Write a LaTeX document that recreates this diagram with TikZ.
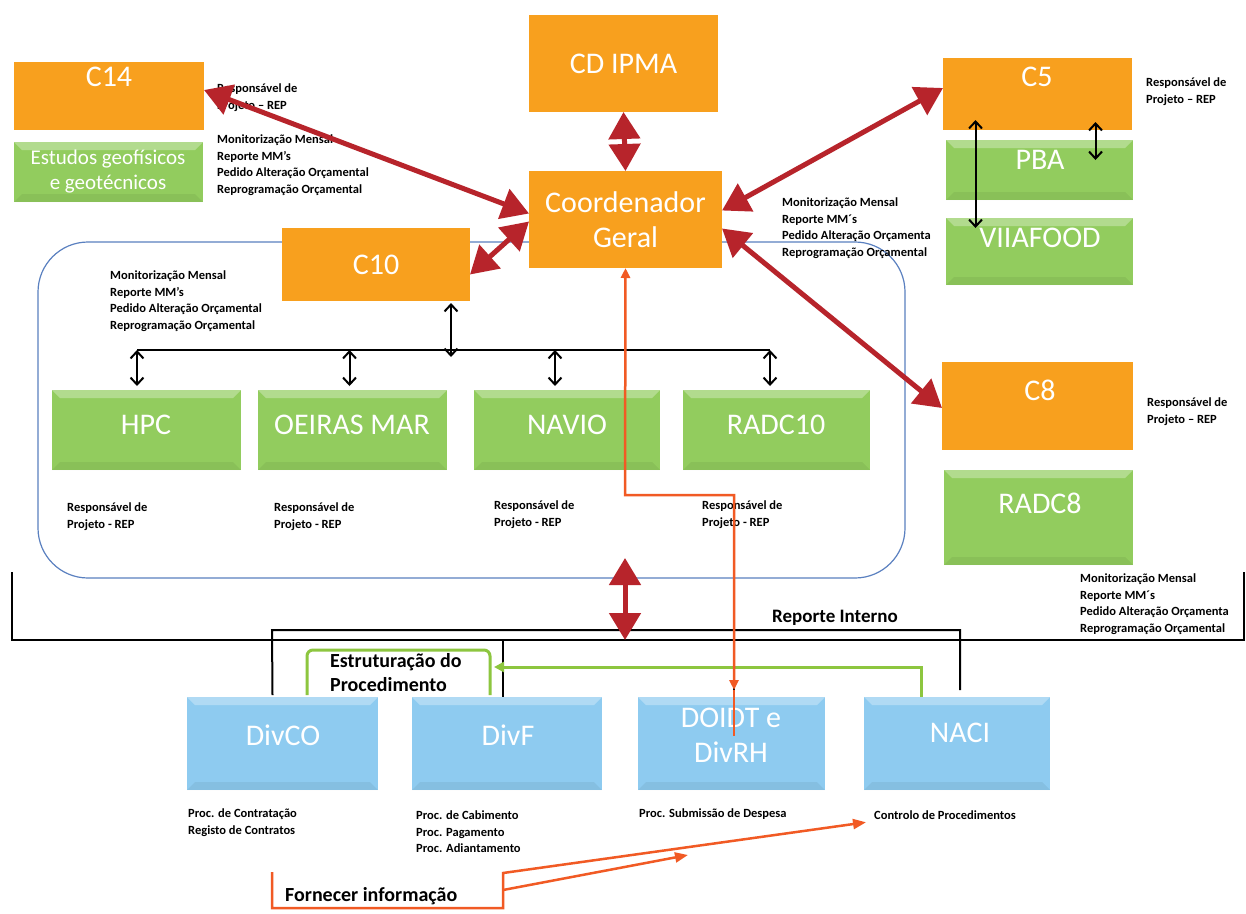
\documentclass[tikz,border=0pt]{standalone}
\usepackage{fontspec}
\setmainfont{Carlito}
\usetikzlibrary{arrows.meta,calc}
\definecolor{orng}{HTML}{F8A01E}
\definecolor{grn}{HTML}{92CC5E}
\definecolor{blu}{HTML}{8ECBF0}
\definecolor{dred}{HTML}{B7242B}
\definecolor{orln}{HTML}{F15A24}
\definecolor{gline}{HTML}{8DC63F}
\definecolor{grpb}{HTML}{5A80C0}
\tikzset{
  box/.style={inner sep=0pt, outer sep=0pt, draw=none},
  orbox/.style={box, fill=orng},
  bevel/.style={path picture={
    \fill[white,opacity=0.3] (path picture bounding box.north west) -- (path picture bounding box.north east) -- ([xshift=-8pt,yshift=-8pt]path picture bounding box.north east) -- ([xshift=8pt,yshift=-8pt]path picture bounding box.north west) -- cycle;
    \fill[black,opacity=0.06] (path picture bounding box.south west) -- (path picture bounding box.south east) -- ([xshift=-8pt,yshift=8pt]path picture bounding box.south east) -- ([xshift=8pt,yshift=8pt]path picture bounding box.south west) -- cycle;}},
  grbox/.style={box, fill=grn, bevel},
  blbox/.style={box, fill=blu, bevel},
  big/.style={text=white, font=\fontsize{30}{35}\selectfont, align=center, inner sep=0pt},
  geotxt/.style={text=white, font=\fontsize{21}{25}\selectfont, align=center, inner sep=0pt},
  small/.style={font=\fontsize{12.5}{16.5}\selectfont\bfseries, align=left, anchor=north west, inner sep=0pt},
  lab/.style={font=\fontsize{20}{24}\selectfont\bfseries, align=left, inner sep=0pt},
  redarr/.style={draw=dred, line width=5pt, {Triangle[length=27pt,width=31pt]}-{Triangle[length=27pt,width=31pt]}},
  bkarr/.style={draw=black, line width=2pt, {Straight Barb[length=7pt,width=13pt]}-{Straight Barb[length=7pt,width=13pt]}},
  bkline/.style={draw=black, line width=2pt},
  gln/.style={draw=gline, line width=3pt},
  oln/.style={draw=orln, line width=2.5pt},
}
\begin{document}
\begin{tikzpicture}[x=1pt,y=-1pt]
\useasboundingbox[fill=white] (0,0) rectangle (1246,913);

% group frame
\node[draw=grpb, line width=1.2pt, rounded corners=50pt, minimum width=867pt, minimum height=336pt, inner sep=0pt] (grp) at (471.5,410) {};

% small text that boxes may cover
\node[small] (mcg) at (782,198) {Monitorização Mensal\\Reporte MM´s\\Pedido Alteração Orçamenta\\Reprogramação Orçamental};

% orange boxes
\node[orbox, minimum width=190pt, minimum height=68pt] (c14) at (109,96) {};
\node[big] (c14t) at (109,77) {C14};
\node[orbox, big, minimum width=189pt, minimum height=97pt] (cd) at (623.5,63.5) {CD IPMA};
\node[orbox, big, minimum width=193pt, minimum height=97pt] (cg) at (625.5,219.5) {Coordenador\\Geral};
\node[orbox, minimum width=189pt, minimum height=72pt] (c5) at (1037.5,94) {};
\node[big] (c5t) at (1037,77) {C5};
\node[orbox, big, minimum width=188pt, minimum height=73pt] (c10) at (376,264.5) {C10};
\node[orbox, minimum width=191pt, minimum height=88pt] (c8) at (1037.5,406) {};
\node[big] (c8t) at (1040,390) {C8};

% green boxes
\node[grbox, minimum width=189pt, minimum height=60pt] (geo) at (108.5,172) {};
\node[geotxt] (geot) at (108,172) {Estudos geofísicos\\e geotécnicos};
\node[grbox, minimum width=187pt, minimum height=60pt] (pba) at (1039.5,170) {};
\node[big] (pbat) at (1040,160) {PBA};
\node[grbox, minimum width=187pt, minimum height=67pt] (vii) at (1039.5,251.5) {};
\node[big] (viit) at (1040,238) {VIIAFOOD};
\node[grbox, minimum width=189pt, minimum height=80pt] (hpc) at (146.5,430) {};
\node[big] (hpct) at (146,425) {HPC};
\node[grbox, minimum width=189pt, minimum height=80pt] (oei) at (352.5,430) {};
\node[big] (oeit) at (352,425) {OEIRAS MAR};
\node[grbox, minimum width=186pt, minimum height=80pt] (nav) at (567,430) {};
\node[big] (navt) at (567,425) {NAVIO};
\node[grbox, minimum width=187pt, minimum height=80pt] (r10) at (776.5,430) {};
\node[big] (r10t) at (776,425) {RADC10};
\node[grbox, minimum width=189pt, minimum height=95pt] (r8) at (1038.5,517.5) {};
\node[big] (r8t) at (1040,503) {RADC8};

% blue boxes
\node[blbox, minimum width=191pt, minimum height=93pt] (divco) at (282.5,743.5) {};
\node[big] (divcot) at (283,735) {DivCO};
\node[blbox, minimum width=190pt, minimum height=93pt] (divf) at (507,743.5) {};
\node[big] (divft) at (508,735) {DivF};
\node[blbox, minimum width=187pt, minimum height=93pt] (divrh) at (731.5,743.5) {};
\node[big] (divrht) at (731,735) {DOIDT e\\DivRH};
\node[blbox, minimum width=186pt, minimum height=93pt] (naci) at (957,743.5) {};
\node[big] (nacit) at (960,733) {NACI};

% small texts
\node[small] (r14) at (217,84) {Responsável de\\Projeto – REP};
\node[small] (m14) at (217,135) {Monitorização Mensal\\Reporte MM’s\\Pedido Alteração Orçamental\\Reprogramação Orçamental};
\node[small] (r5) at (1146,78) {Responsável de\\Projeto – REP};
\node[small] (m10) at (110,271) {Monitorização Mensal\\Reporte MM’s\\Pedido Alteração Orçamental\\Reprogramação Orçamental};
\node[small] (rhpc) at (67,503) {Responsável de\\Projeto - REP};
\node[small] (roei) at (274,503) {Responsável de\\Projeto - REP};
\node[small] (rnav) at (494,501) {Responsável de\\Projeto - REP};
\node[small] (rr10) at (702,501) {Responsável de\\Projeto - REP};
\node[small] (r8r) at (1147,398) {Responsável de\\Projeto – REP};
\node[small] (m8) at (1080,574) {Monitorização Mensal\\Reporte MM´s\\Pedido Alteração Orçamenta\\Reprogramação Orçamental};
\node[small] (pco) at (188,809) {Proc. de Contratação\\Registo de Contratos};
\node[small] (pf) at (416,811) {Proc. de Cabimento\\Proc. Pagamento\\Proc. Adiantamento};
\node[small] (prh) at (639,809) {Proc. Submissão de Despesa};
\node[small] (ctrl) at (874,811) {Controlo de Procedimentos};
\node[lab, font=\fontsize{19}{23}\selectfont\bfseries] (rint) at (835,618) {Reporte Interno};
\node[lab, anchor=north west] (estr) at (330,653) {Estruturação do\\Procedimento};
\node[lab, anchor=west] (forn) at (285,896) {Fornecer informação};

% coordinates
\coordinate (bl) at (137,350);
\coordinate (brr) at (770,350);
\coordinate (rtop) at (625,558);
\coordinate (rbot) at (625,640);
\coordinate (garr) at (494,667);
\coordinate (fi2) at (688,855);

% bus and black arrows
\draw[draw=black, line width=1.5pt] (bl) -- (brr);
\draw[bkarr] (bl) -- ($(bl)+(0,36)$);
\draw[bkarr] ($(oei.north)+(-3,-40)$) -- ($(oei.north)+(-3,-4)$);
\draw[bkarr] ($(nav.north)+(-12,-40)$) -- ($(nav.north)+(-12,-4)$);
\draw[bkarr] (brr) -- ($(brr)+(0,36)$);
\draw[bkarr] ($(c10.south)+(75,2)$) -- ($(c10.south)+(75,56)$);
\draw[bkarr] ($(c5.south)+(-62,-10)$) -- ($(vii.north)+(-64,10)$);
\draw[bkarr] ($(c5.south)+(58,-8)$) -- ($(pba.north)+(56,20)$);

% brackets
\draw[bkline] (12,572) -- (12,640) -- (1244,640) -- (1244,572);
\draw[bkline] ($(divco.north)+(-10,-2)$) -- (272,630) -- (960,630) -- ($(naci.north)+(3,-7)$);
\draw[bkline] (503,640) -- ($(divf.north)+(-4,0)$);
\draw[bkline] (734,630) -- ($(divrh.north)+(2.5,-7)$);

% green
\draw[gln, rounded corners=6pt] ($(divco.north)+(24.5,-2)$) -- (307,650) -- (490,650) -- ($(divf.north)+(-17,-2)$);
\draw[gln, -{Triangle[length=10pt,width=10pt]}] ($(naci.north)+(-36,0)$) -- (921,667) -- (garr);

% red arrows
\draw[redarr] (cd.south) -- (cg.north);
\draw[redarr] ([yshift=6pt]c14.east) -- ([yshift=6pt]cg.west);
\draw[redarr] ([yshift=-10pt]c10.east) -- ([yshift=-2pt]cg.west);
\draw[redarr] ([yshift=9pt]cg.east) -- ([yshift=6pt]c5.west);
\draw[redarr] ([yshift=-9pt]cg.east) -- ([yshift=-2pt]c8.west);
\draw[redarr] (rtop) -- (rbot);

% orange lines
\draw[oln] ($(divrh.north)+(2.5,-7)$) -- ($(divrh.north)+(2.5,39)$);
\draw[oln, {Triangle[length=10pt,width=9pt]}-{Triangle[length=10pt,width=9pt]}] ($(divrh.north)+(2.5,-7)$) -- (734,495) -- (625,495) -- (cg.south);
\draw[oln, -{Triangle[length=13pt,width=10pt]}] (272,872) -- (272,908) -- (503,908) -- (503,873) -- ($(ctrl.south west)+(-8,2)$);
\draw[oln, -{Triangle[length=13pt,width=10pt]}] (503,890) -- (fi2);
\end{tikzpicture}
\end{document}
